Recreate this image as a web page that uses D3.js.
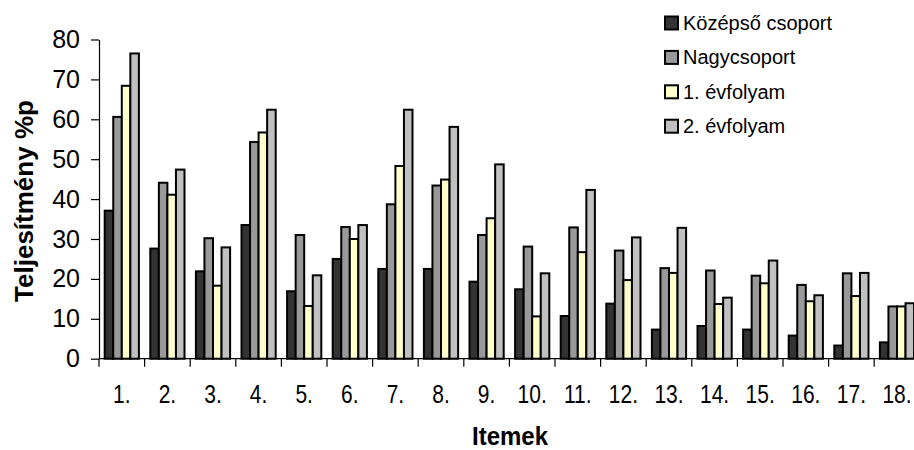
<!DOCTYPE html>
<html>
<head>
<meta charset="utf-8">
<script src="https://cdn.jsdelivr.net/npm/d3@7/dist/d3.min.js"></script>
<style>
  html, body { margin: 0; padding: 0; background: #fff; }
  svg { display: block; }
  text { font-family: "Liberation Sans", Arial, sans-serif; fill: #000; }
</style>
</head>
<body>
<svg id="chart" width="914" height="450"></svg>
<script>
// Items on the x axis
const items = ["1.", "2.", "3.", "4.", "5.", "6.", "7.", "8.", "9.", "10.",
               "11.", "12.", "13.", "14.", "15.", "16.", "17.", "18."];

// Series names (legend order)
const seriesNames = ["Középső csoport", "Nagycsoport", "1. évfolyam", "2. évfolyam"];

// Performance values (%p) per series, one value per item
const kozepso   = [37.1, 27.6, 21.9, 33.5, 16.9, 25.0, 22.5, 22.5, 19.3, 17.4, 10.7, 13.8, 7.3, 8.2, 7.3, 5.8, 3.3, 4.1];
const nagy      = [60.6, 44.1, 30.2, 54.3, 31.0, 33.0, 38.7, 43.4, 31.0, 28.1, 32.9, 27.1, 22.7, 22.1, 20.8, 18.5, 21.4, 13.1];
const evfolyam1 = [68.4, 41.1, 18.3, 56.7, 13.2, 30.0, 48.3, 44.9, 35.2, 10.6, 26.7, 19.7, 21.5, 13.7, 18.9, 14.4, 15.7, 13.1];
const evfolyam2 = [76.5, 47.4, 27.9, 62.4, 20.9, 33.5, 62.4, 58.1, 48.7, 21.4, 42.3, 30.4, 32.8, 15.3, 24.6, 15.9, 21.5, 13.9];

// Y axis ticks
const yTicks = [0, 10, 20, 30, 40, 50, 60, 70, 80];

const seriesValues = [kozepso, nagy, evfolyam1, evfolyam2];
const colors = ["#333333", "#999999", "#ffffcc", "#c0c0c0"];

const svg = d3.select("#chart");

const plotLeft = 99, plotBottom = 358.7, plotTop = 39.5;
const groupW = 45.6;

const x0 = d3.scaleBand()
  .domain(items)
  .range([plotLeft, plotLeft + groupW * items.length])
  .padding(0);

const x1 = d3.scaleBand()
  .domain(seriesNames)
  .range([x0.bandwidth() * 0.125, x0.bandwidth() * 0.875])
  .padding(0);

const y = d3.scaleLinear().domain([0, 80]).range([plotBottom, plotTop]);

const color = d3.scaleOrdinal().domain(seriesNames).range(colors);

// Bars
const rows = items.map((it, i) => ({
  item: it,
  vals: seriesNames.map((s, k) => ({ series: s, value: seriesValues[k][i] }))
}));

const groups = svg.append("g")
  .selectAll("g")
  .data(rows)
  .join("g")
  .attr("transform", d => `translate(${x0(d.item)},0)`);

groups.selectAll("rect")
  .data(d => d.vals)
  .join("rect")
  .attr("x", d => x1(d.series))
  .attr("width", x1.bandwidth())
  .attr("y", d => y(d.value))
  .attr("height", d => y(0) - y(d.value))
  .attr("fill", d => color(d.series))
  .attr("stroke", "#000")
  .attr("stroke-width", 2);

// Y axis
const yAxis = svg.append("g")
  .attr("transform", `translate(${plotLeft},0)`)
  .call(d3.axisLeft(y).tickValues(yTicks).tickSize(8).tickPadding(11).tickSizeOuter(0));
yAxis.select(".domain").attr("stroke", "#000").attr("stroke-width", 1.2);
yAxis.selectAll(".tick line").attr("stroke", "#000").attr("stroke-width", 1.2);
yAxis.selectAll(".tick text")
  .attr("font-size", 25)
  .attr("font-family", "Liberation Sans, Arial, sans-serif")
  .attr("fill", "#000");

// X axis: baseline, boundary ticks, item labels
const xg = svg.append("g");
xg.append("line")
  .attr("x1", plotLeft).attr("x2", 914)
  .attr("y1", y(0)).attr("y2", y(0))
  .attr("stroke", "#000").attr("stroke-width", 1.2);

xg.selectAll("line.bound")
  .data(items)
  .join("line")
  .attr("class", "bound")
  .attr("x1", d => x0(d)).attr("x2", d => x0(d))
  .attr("y1", y(0)).attr("y2", y(0) + 8)
  .attr("stroke", "#000").attr("stroke-width", 1.2);

xg.selectAll("text.item")
  .data(items)
  .join("text")
  .attr("class", "item")
  .attr("text-anchor", "middle")
  .attr("font-size", 25)
  .attr("transform", d => `translate(${x0(d) + x0.bandwidth() / 2},402.5) scale(0.84,1)`)
  .text(d => d);

// Axis titles
svg.append("text")
  .attr("text-anchor", "middle")
  .attr("font-size", 25)
  .attr("font-weight", "bold")
  .attr("transform", `translate(510,445) scale(0.96,1)`)
  .text("Itemek");

svg.append("text")
  .attr("text-anchor", "middle")
  .attr("font-size", 26)
  .attr("font-weight", "bold")
  .attr("transform", `translate(33,201) rotate(-90)`)
  .text("Teljesítmény %p");

// Legend
const legend = svg.append("g")
  .selectAll("g")
  .data(seriesNames)
  .join("g")
  .attr("transform", (d, i) => `translate(665,${23 + i * 34.4})`);

legend.append("rect")
  .attr("x", 0).attr("y", -6.5)
  .attr("width", 13).attr("height", 13)
  .attr("fill", d => color(d))
  .attr("stroke", "#000")
  .attr("stroke-width", 2);

legend.append("text")
  .attr("x", 18)
  .attr("y", 7)
  .attr("font-size", 20)
  .text(d => d);
</script>
</body>
</html>
